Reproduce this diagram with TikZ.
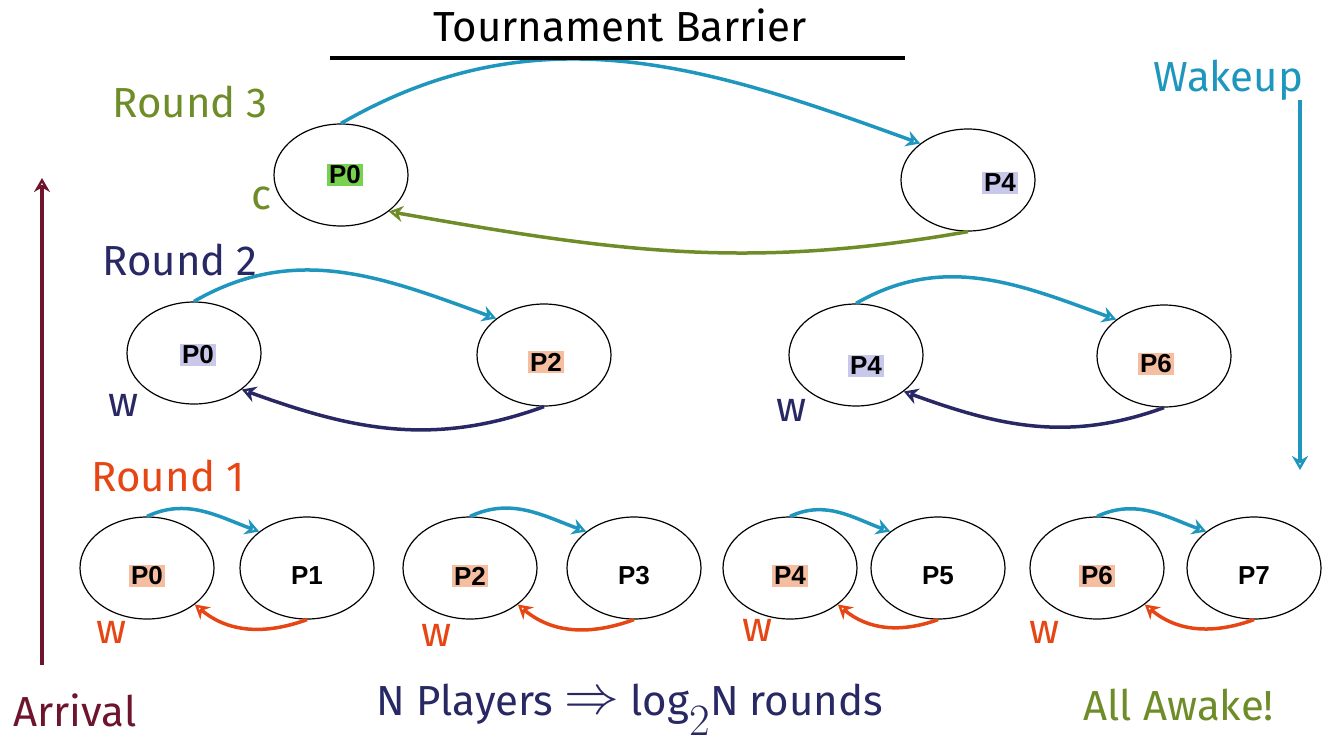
\documentclass[tikz,border=0pt]{standalone}
\usepackage{fontspec}
\setmainfont{Liberation Sans}
\newfontfamily\hand{Fira Sans}
\usetikzlibrary{shapes.geometric,arrows.meta}
\begin{document}
\begin{tikzpicture}[x=1pt,y=-1pt,
  proc/.style={ellipse,draw,line width=1.2pt,minimum width=134pt,minimum height=102pt,inner sep=0pt},
  lab/.style={font=\bfseries\fontsize{26}{28}\selectfont,inner sep=2pt},
  wake/.style={draw=cyanA,line width=3.5pt,-{Stealth[length=14pt,width=16pt,open]}},
  back/.style={line width=3.5pt,-{Stealth[length=14pt,width=16pt,open]}},
  hw/.style={font=\hand\fontsize{42}{44}\selectfont}]
\definecolor{cyanA}{RGB}{30,150,190}
\definecolor{olive}{RGB}{110,140,40}
\definecolor{navy}{RGB}{40,40,100}
\definecolor{oran}{RGB}{230,70,20}
\definecolor{maroon}{RGB}{110,20,45}
\definecolor{hgreen}{RGB}{120,210,80}
\definecolor{hlav}{RGB}{200,200,235}
\definecolor{hor}{RGB}{245,190,160}
\useasboundingbox (0,0) rectangle (1335,745);
% round 3
\node[proc] (a0) at (341,175) {};
\node[lab,fill=hgreen] at (345,175) {P0};
\node[proc] (a4) at (968,180) {};
\node[lab,fill=hlav] at (1000,183) {P4};
% round 2
\node[proc] (b0) at (194,353) {};
\node[lab,fill=hlav] at (198,355) {P0};
\node[proc] (b2) at (544,355) {};
\node[lab,fill=hor] at (546,362) {P2};
\node[proc] (b4) at (856,355) {};
\node[lab,fill=hlav] at (866,366) {P4};
\node[proc] (b6) at (1164,356) {};
\node[lab,fill=hor] at (1156,364) {P6};
% round 1
\foreach \n/\x/\h in {0/147/1,1/307/0,2/470/1,3/634/0,4/790/1,5/938/0,6/1097/1,7/1254/0}{
  \node[proc] (c\n) at (\x,568) {};
  \ifnum\h=1 \node[lab,fill=hor] at (\x,576) {P\n};
  \else \node[lab] at (\x,576) {P\n}; \fi
}
% wakeup arrows
\draw[wake] (a0.north) to[out=30,in=160] (a4.north west);
\draw[wake] (b0.north) to[out=30,in=160] (b2.north west);
\draw[wake] (b4.north) to[out=30,in=160] (b6.north west);
\foreach \l/\r in {0/1,2/3,4/5,6/7}{
  \draw[wake] (c\l.north) to[out=25,in=160] (c\r.north west);
}
% arrival arrows
\draw[back,olive] (a4.south) to[out=-170,in=-10] (a0.south east);
\draw[back,navy] (b2.south) to[out=-160,in=-20] (b0.south east);
\draw[back,navy] (b6.south) to[out=-160,in=-20] (b4.south east);
\foreach \l/\r in {0/1,2/3,4/5,6/7}{
  \draw[back,oran] (c\r.south) to[out=-160,in=-40] (c\l.south east);
}
% texts
\node[hw] (title) at (620,25) {Tournament Barrier};
\draw[line width=3.5pt] (330,58) -- (905,58);
\node[hw,text=olive] (r3) at (190,102) {Round 3};
\node[hw,text=olive] (cc) at (262,198) {c};
\node[hw,text=navy] (r2) at (180,260) {Round 2};
\node[hw,text=navy] (w2a) at (124,405) {w};
\node[hw,text=navy] (w2b) at (792,410) {w};
\node[hw,text=oran] (r1) at (168,476) {Round 1};
\node[hw,text=oran] (w1a) at (112,632) {w};
\node[hw,text=oran] (w1b) at (437,635) {w};
\node[hw,text=oran] (w1c) at (758,630) {w};
\node[hw,text=oran] (w1d) at (1045,632) {w};
\node[hw,text=maroon] (arr) at (75,710) {Arrival};
\coordinate (arrB) at (42,665); \coordinate (arrT) at (42,178);
\draw[back,maroon] (arrB) -- (arrT);
\node[hw,text=cyanA,anchor=west] (wk) at (1150,80) {Wakeup};
\coordinate (wkT) at (1300,100); \coordinate (wkB) at (1300,470);
\draw[wake] (wkT) -- (wkB);
\node[hw,text=navy] (np) at (630,710) {N Players \raisebox{2pt}{\scalebox{2.2}{$\Rightarrow$}} log$_{\scalebox{1.8}{$\scriptstyle 2$}}$N rounds};
\node[hw,text=olive,anchor=west] (aa) at (1080,705) {All Awake!};
\end{tikzpicture}
\end{document}
